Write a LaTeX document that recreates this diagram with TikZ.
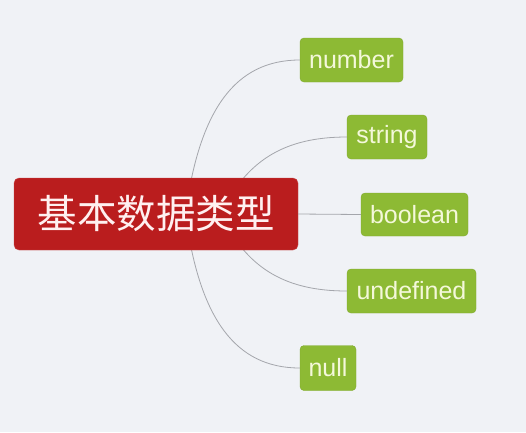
\documentclass[tikz,border=0pt]{standalone}
\usepackage{fontspec}
\setmainfont{Liberation Sans}
\newfontfamily\cjk{Noto Sans CJK SC}
\definecolor{bgc}{HTML}{F0F2F6}
\definecolor{mainred}{HTML}{BA1D1E}
\definecolor{leafgreen}{HTML}{8DBA34}
\definecolor{leaftext}{HTML}{F4F8DA}
\definecolor{linec}{HTML}{A4A6AC}
\tikzset{
  leaf/.style={rectangle, rounded corners=4pt, fill=leafgreen, draw=leafgreen!85!black!60!leafgreen,
    text=leaftext, font=\fontsize{25}{25}\selectfont, inner sep=0pt, minimum height=44pt, anchor=center},
  mainbox/.style={rectangle, rounded corners=5pt, fill=mainred, draw=mainred!80!white,
    text=white!94!red, font=\cjk\fontsize{39.5}{40}\selectfont, inner sep=0pt,
    minimum width=284pt, minimum height=72pt},
  conn/.style={draw=linec, line width=0.8pt}
}
\begin{document}
\begin{tikzpicture}[x=1pt,y=-1pt]
\fill[bgc] (0,0) rectangle (526,432);
\useasboundingbox (0,0) rectangle (526,432);
% hidden start points inside the central box
\coordinate (s1) at (186,210);
\coordinate (s2) at (225,205);
\coordinate (s4) at (225,223);
\coordinate (s5) at (186,218);
% leaves
\node[leaf, minimum width=103pt] (number) at (351.5,60) {number};
\node[leaf, minimum width=80pt] (string) at (387,137) {string};
\node[leaf, minimum width=107pt, minimum height=43pt] (boolean) at (414.5,214.5) {boolean};
\node[leaf, minimum width=129pt] (undefined) at (411.5,291) {undefined};
\node[leaf, minimum width=56pt, minimum height=45pt] (null) at (328,368) {null};
% connectors
\draw[conn] (s1) .. controls (200,110) and (235,60) .. (number.west);
\draw[conn] (s2) .. controls (250,160) and (285,137) .. (string.west);
\draw[conn] (s4) .. controls (250,268) and (285,291) .. (undefined.west);
\draw[conn] (s5) .. controls (200,318) and (235,368) .. (null.west);
% central node
\node[mainbox] (main) at (156,214) {基本数据类型};
\draw[conn] (main.east) -- (boolean.west);
\end{tikzpicture}
\end{document}
